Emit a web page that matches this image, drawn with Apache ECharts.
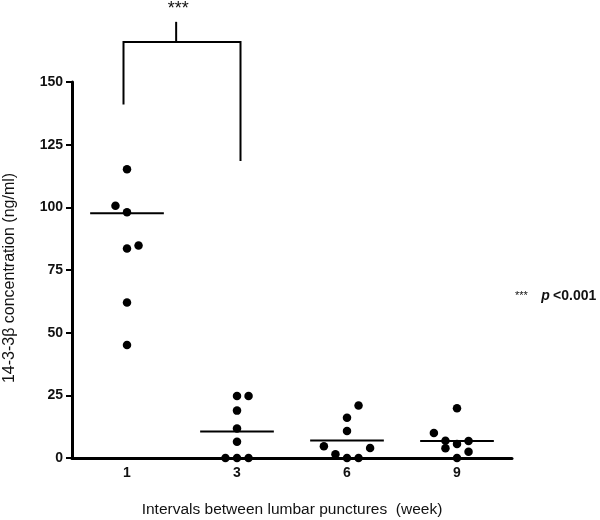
<!DOCTYPE html>
<html>
<head>
    <meta charset="utf-8">
    <title>14-3-3 beta</title>
    <script src="https://cdn.jsdelivr.net/npm/echarts@6/dist/echarts.min.js"></script>
</head>
<body style="margin:0;background:#fff;">
<div id="main" style="width: 600px;height:520px;"></div>
<script type="text/javascript">
    // groups (weeks between lumbar punctures)
    var weeks = ['1', '3', '6', '9'];

    // measured values per group (ng/ml)
    var week1 = [115.2, 100.6, 98.0, 84.8, 83.6, 62.0, 45.1];
    var week3 = [24.7, 24.7, 18.9, 11.8, 6.5, 0, 0, 0];
    var week6 = [20.9, 16.1, 10.8, 4.7, 4.0, 1.5, 0, 0];
    var week9 = [19.8, 10.0, 6.9, 5.6, 6.8, 3.9, 2.5, 0];

    // column slot of each dot (side by side when values overlap)
    var slots1 = [0, -1, 0, 1, 0, 0, 0];
    var slots3 = [0, 1, 0, 0, 0, -1, 0, 1];
    var slots6 = [1, 0, 0, -2, 2, -1, 0, 1];
    var slots9 = [0, -2, -1, 0, 1, -1, 1, 0];

    // horizontal line drawn for each group
    var groupLines = [97.6, 10.6, 7.0, 6.8];

    // significance bracket between week 1 and week 3
    var bracketTop = 166;
    var bracketLeftEnd = 141;
    var bracketRightEnd = 118.5;
    var bracketTickTop = 174;

    var yTicks = [0, 25, 50, 75, 100, 125, 150];

    var SLOT = 0.105; // width of one slot, in group units
    var groups = [week1, week3, week6, week9];
    var slots = [slots1, slots3, slots6, slots9];
    var points = [];
    groups.forEach(function (vals, g) {
        vals.forEach(function (v, k) {
            points.push([g + 0.5 + slots[g][k] * SLOT, v]);
        });
    });

    var myChart = echarts.init(document.getElementById('main'));
    var font = 'Arial, "Liberation Sans", sans-serif';

    myChart.setOption({
        animation: false,
        grid: {left: 72, right: 88, top: 82, bottom: 62, outerBoundsMode: 'none', containLabel: false},
        xAxis: [
            {
                type: 'category',
                data: weeks,
                boundaryGap: true,
                axisLine: {lineStyle: {color: '#000', width: 3}},
                axisTick: {alignWithLabel: true, length: 6, lineStyle: {color: '#000', width: 2}},
                axisLabel: {color: '#111', fontFamily: font, fontSize: 14, fontWeight: 'bold', margin: 8},
                splitLine: {show: false},
                name: 'Intervals between lumbar punctures  (week)',
                nameLocation: 'middle',
                nameGap: 44,
                nameTextStyle: {color: '#111', fontFamily: font, fontSize: 15.5}
            },
            {type: 'value', min: 0, max: 4, show: false}
        ],
        yAxis: {
            type: 'value',
            min: yTicks[0],
            max: yTicks[yTicks.length - 1],
            interval: 25,
            axisLine: {show: true, lineStyle: {color: '#000', width: 3}},
            axisTick: {show: true, length: 6, lineStyle: {color: '#000', width: 2}},
            axisLabel: {color: '#111', fontFamily: font, fontSize: 14, fontWeight: 'bold', margin: 9},
            splitLine: {show: false}
        },
        graphic: [
            {
                type: 'text',
                x: 10,
                y: 278,
                rotation: Math.PI / 2,
                style: {
                    text: '14-3-3\u03b2 concentration (ng/ml)',
                    font: '16px ' + font,
                    fill: '#111',
                    textAlign: 'center',
                    textVerticalAlign: 'middle'
                }
            },
            {
                type: 'text',
                left: 515,
                top: 289,
                style: {
                    rich: {
                        s: {fontSize: 11, fontFamily: font, fill: '#111'},
                        p: {fontSize: 14, fontFamily: font, fontWeight: 'bold', fontStyle: 'italic', fill: '#111'},
                        t: {fontSize: 14, fontFamily: font, fontWeight: 'bold', fill: '#111'}
                    },
                    text: '{s|***}    {p|p} {t|<0.001}'
                }
            }
        ],
        series: [
            {
                type: 'scatter',
                xAxisIndex: 1,
                data: points,
                symbol: 'circle',
                symbolSize: 8.5,
                clip: false,
                itemStyle: {color: '#000', opacity: 1}
            },
            {
                type: 'custom',
                xAxisIndex: 1,
                data: groupLines.map(function (v, i) { return [i + 0.5, v]; }),
                renderItem: function (params, api) {
                    var c = api.coord([api.value(0), api.value(1)]);
                    var half = api.size([1, 0])[0] * 0.335;
                    return {
                        type: 'line',
                        shape: {x1: c[0] - half, y1: c[1], x2: c[0] + half, y2: c[1]},
                        style: {stroke: '#000', lineWidth: 2}
                    };
                }
            },
            {
                type: 'custom',
                xAxisIndex: 1,
                data: [[0.5, 1.5, bracketTop, bracketLeftEnd, bracketRightEnd, bracketTickTop]],
                renderItem: function (params, api) {
                    var l = api.coord([api.value(0), api.value(3)]);
                    var t = api.coord([api.value(0), api.value(2)]);
                    var r = api.coord([api.value(1), api.value(4)]);
                    var m = api.coord([api.value(0), api.value(5)]);
                    var xl = l[0] - 3.5, xr = r[0] + 3.5;
                    var xm = xl + (xr - xl) * 0.45;
                    return {
                        type: 'group',
                        children: [
                            {
                                type: 'polyline',
                                shape: {points: [[xl, l[1]], [xl, t[1]], [xr, t[1]], [xr, r[1]]]},
                                style: {stroke: '#000', lineWidth: 2, fill: null}
                            },
                            {
                                type: 'line',
                                shape: {x1: xm, y1: t[1], x2: xm, y2: m[1]},
                                style: {stroke: '#000', lineWidth: 2}
                            },
                            {
                                type: 'text',
                                x: xm + 2,
                                y: m[1] - 4,
                                style: {
                                    text: '***',
                                    font: '18px ' + font,
                                    fill: '#111',
                                    textAlign: 'center',
                                    textVerticalAlign: 'bottom'
                                }
                            }
                        ]
                    };
                }
            }
        ]
    });
</script>
</body>
</html>
